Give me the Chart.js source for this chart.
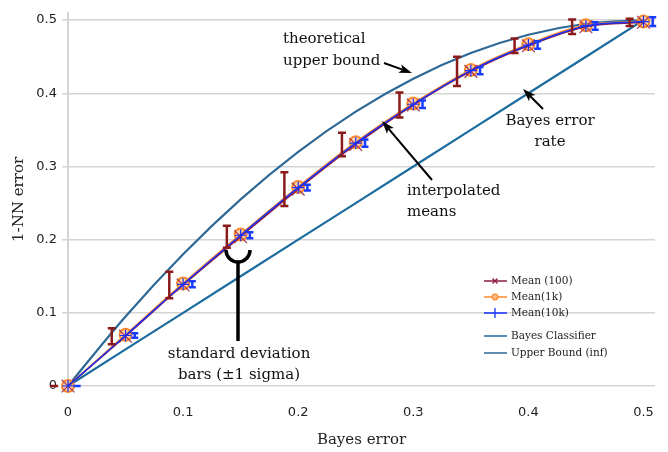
<!DOCTYPE html>
<html>
<head>
<meta charset="utf-8">
<script src="https://cdn.jsdelivr.net/npm/chart.js@4.4.1/dist/chart.umd.min.js"></script>
<style>
html,body{margin:0;padding:0;background:#fff;}
#wrap{width:668px;height:452px;position:relative;}
</style>
</head>
<body>
<div id="wrap"><canvas id="c" width="668" height="452"></canvas></div>
<script>
// ---- data ----
const xs        = [0, 0.05, 0.10, 0.15, 0.20, 0.25, 0.30, 0.35, 0.40, 0.45, 0.50];
const mean100   = [0, 0.068, 0.138, 0.204, 0.269, 0.330, 0.384, 0.430, 0.465, 0.491, 0.497];
const mean1k    = [0, 0.070, 0.140, 0.207, 0.272, 0.333, 0.386, 0.432, 0.467, 0.493, 0.498];
const mean10k   = [0, 0.069, 0.139, 0.206, 0.271, 0.332, 0.385, 0.431, 0.466, 0.492, 0.498];
const sd100     = [0, 0.011, 0.018, 0.015, 0.023, 0.016, 0.017, 0.020, 0.010, 0.010, 0.005];
const sd10k     = [0, 0.003, 0.004, 0.004, 0.004, 0.005, 0.005, 0.005, 0.005, 0.005, 0.006];
const bayesRate = [0, 0.05, 0.10, 0.15, 0.20, 0.25, 0.30, 0.35, 0.40, 0.45, 0.50];
const upperBound= [0, 0.095, 0.18, 0.255, 0.32, 0.375, 0.42, 0.455, 0.48, 0.495, 0.50];
const xTicks    = [0, 0.1, 0.2, 0.3, 0.4, 0.5];
const yTicks    = [0, 0.1, 0.2, 0.3, 0.4, 0.5];
const seriesNames = ['Mean (100)', 'Mean(1k)', 'Mean(10k)', 'Bayes Classifier', 'Upper Bound (inf)'];

const toPts = (ys) => xs.map((x, i) => ({x: x, y: ys[i]}));

const C_RED = '#8e1a3e', C_ORANGE = '#ff8a2a', C_BLUE = '#1430ff';
const C_BAYES = '#1b6b9e', C_UB = '#2d6896';
const SERIF = '"DejaVu Serif", serif';

const errorBars = {
  id: 'errorBars',
  afterDatasetsDraw(chart) {
    const ctx = chart.ctx, xS = chart.scales.x, yS = chart.scales.y;
    function bars(vals, sds, off, color, w, cap) {
      ctx.save();
      ctx.strokeStyle = color; ctx.lineWidth = w; ctx.lineCap = 'butt';
      xs.forEach((x, i) => {
        const px = xS.getPixelForValue(x + off);
        const yt = yS.getPixelForValue(vals[i] + sds[i]);
        const yb = yS.getPixelForValue(vals[i] - sds[i]);
        ctx.beginPath();
        ctx.moveTo(px, yt); ctx.lineTo(px, yb);
        ctx.moveTo(px - cap, yt); ctx.lineTo(px + cap, yt);
        ctx.moveTo(px - cap, yb); ctx.lineTo(px + cap, yb);
        ctx.stroke();
      });
      ctx.restore();
    }
    bars(mean100, sd100, -0.012, '#8b1a1a', 2.5, 4);
    bars(mean10k, sd10k, 0.008, '#1a3cff', 2.5, 3.5);
  }
};

function arrow(ctx, x1, y1, x2, y2) {
  const a = Math.atan2(y2 - y1, x2 - x1);
  const L = 13, W = 4.5;
  ctx.beginPath();
  ctx.moveTo(x1, y1);
  ctx.lineTo(x2 - Math.cos(a) * (L - 3), y2 - Math.sin(a) * (L - 3));
  ctx.stroke();
  ctx.beginPath();
  ctx.moveTo(x2, y2);
  ctx.lineTo(x2 - L * Math.cos(a) + W * Math.sin(a), y2 - L * Math.sin(a) - W * Math.cos(a));
  ctx.lineTo(x2 - (L - 3) * Math.cos(a), y2 - (L - 3) * Math.sin(a));
  ctx.lineTo(x2 - L * Math.cos(a) - W * Math.sin(a), y2 - L * Math.sin(a) + W * Math.cos(a));
  ctx.closePath();
  ctx.fill();
}

const annotations = {
  id: 'annotations',
  afterDraw(chart) {
    const ctx = chart.ctx;
    ctx.save();
    ctx.fillStyle = '#111'; ctx.strokeStyle = '#000';
    ctx.font = '15px ' + SERIF;
    ctx.textBaseline = 'alphabetic';
    ctx.textAlign = 'left';
    ctx.fillText('theoretical', 283, 43);
    ctx.fillText('upper bound', 283, 65);
    ctx.fillText('interpolated', 407, 195);
    ctx.fillText('means', 407, 216);
    ctx.textAlign = 'center';
    ctx.fillText('Bayes error', 550, 125);
    ctx.fillText('rate', 550, 146);
    ctx.fillText('standard deviation', 239, 358);
    ctx.fillText('bars (\u00b11 sigma)', 239, 379);
    ctx.fillStyle = '#000';
    ctx.lineWidth = 2;
    arrow(ctx, 384, 63, 412, 73);
    arrow(ctx, 432, 180, 382, 121);
    arrow(ctx, 543, 109, 523, 89);
    // brace
    ctx.lineWidth = 3.5;
    ctx.beginPath();
    ctx.arc(238, 250, 12, 0, Math.PI, false);
    ctx.stroke();
    ctx.beginPath();
    ctx.moveTo(238, 262); ctx.lineTo(238, 341);
    ctx.stroke();

    // legend
    const rows = [
      {y: 281, color: C_RED, m: 'x'},
      {y: 297, color: C_ORANGE, m: 'o'},
      {y: 313, color: C_BLUE, m: '+'},
      {y: 336, color: C_BAYES, m: ''},
      {y: 353, color: C_UB, m: ''}
    ];
    ctx.font = '10.5px ' + SERIF;
    ctx.textAlign = 'left'; ctx.textBaseline = 'middle';
    rows.forEach((r, i) => {
      ctx.strokeStyle = r.color; ctx.lineWidth = 1.5;
      ctx.beginPath(); ctx.moveTo(484, r.y); ctx.lineTo(507, r.y); ctx.stroke();
      if (r.m === 'x') {
        ctx.lineWidth = 1.3;
        ctx.beginPath();
        ctx.moveTo(492.5, r.y - 2.5); ctx.lineTo(497.5, r.y + 2.5);
        ctx.moveTo(492.5, r.y + 2.5); ctx.lineTo(497.5, r.y - 2.5);
        ctx.stroke();
      } else if (r.m === 'o') {
        ctx.fillStyle = 'rgba(255,190,140,0.9)';
        ctx.lineWidth = 1.3;
        ctx.beginPath(); ctx.arc(495, r.y, 2.8, 0, Math.PI * 2); ctx.fill(); ctx.stroke();
      } else if (r.m === '+') {
        ctx.lineWidth = 1.3;
        ctx.beginPath(); ctx.moveTo(495, r.y - 5); ctx.lineTo(495, r.y + 5); ctx.stroke();
      }
      ctx.fillStyle = '#222';
      ctx.fillText(seriesNames[i], 511, r.y);
    });
    ctx.restore();
  }
};

new Chart(document.getElementById('c'), {
  type: 'scatter',
  data: {
    datasets: [
      {label: seriesNames[4], data: toPts(upperBound), showLine: true, borderColor: C_UB, borderWidth: 2.2,
       pointRadius: 0, cubicInterpolationMode: 'monotone', order: 6, clip: false},
      {label: seriesNames[3], data: toPts(bayesRate), showLine: true, borderColor: C_BAYES, borderWidth: 2.2,
       pointRadius: 0, order: 5, clip: false},
      {label: seriesNames[1], data: toPts(mean1k), showLine: true, borderColor: C_ORANGE, borderWidth: 2,
       pointStyle: 'circle', pointRadius: 6, pointBorderWidth: 2, pointBorderColor: C_ORANGE,
       pointBackgroundColor: 'rgba(255,170,110,0.55)', cubicInterpolationMode: 'monotone', order: 4, clip: false},
      {label: seriesNames[0], data: toPts(mean100), showLine: true, borderColor: C_RED, borderWidth: 1.5,
       pointStyle: 'crossRot', pointRadius: 9, pointBorderWidth: 1.2, pointBorderColor: '#a0304a',
       cubicInterpolationMode: 'monotone', order: 3, clip: false},
      {label: seriesNames[2], data: toPts(mean10k), showLine: true, borderColor: C_BLUE, borderWidth: 1.5,
       pointStyle: 'cross', pointRadius: 6, pointBorderWidth: 1.2, pointBorderColor: C_BLUE,
       cubicInterpolationMode: 'monotone', order: 2, clip: false}
    ]
  },
  options: {
    responsive: false,
    animation: false,
    layout: {padding: {top: 5, right: 13, left: 0, bottom: 0}},
    plugins: {legend: {display: false}, tooltip: {enabled: false}},
    scales: {
      x: {
        type: 'linear', min: 0, max: 0.51,
        afterBuildTicks: (s) => { s.ticks = xTicks.map(v => ({value: v})); },
        afterFit: (s) => { s.height = 66; },
        grid: {display: false},
        border: {display: false},
        ticks: {font: {family: 'DejaVu Sans', size: 13}, color: '#222', padding: 11,
                callback: (v) => String(v), maxRotation: 0},
        title: {display: true, text: 'Bayes error', font: {family: 'DejaVu Serif', size: 15}, color: '#222',
                padding: {top: 0, bottom: 3}}
      },
      y: {
        type: 'linear', min: 0, max: 0.51,
        afterBuildTicks: (s) => { s.ticks = yTicks.map(v => ({value: v})); },
        afterFit: (s) => { s.width = 68; },
        grid: {color: '#d4d4d4', lineWidth: 1.5, tickLength: 6},
        border: {display: true, color: '#d4d4d4', width: 2},
        ticks: {font: {family: 'DejaVu Sans', size: 13}, color: '#222', padding: 5,
                callback: (v) => String(v)},
        title: {display: true, text: '1-NN error', font: {family: 'DejaVu Serif', size: 15}, color: '#222',
                padding: {top: 10, bottom: 0}}
      }
    }
  },
  plugins: [errorBars, annotations]
});
</script>
</body>
</html>
